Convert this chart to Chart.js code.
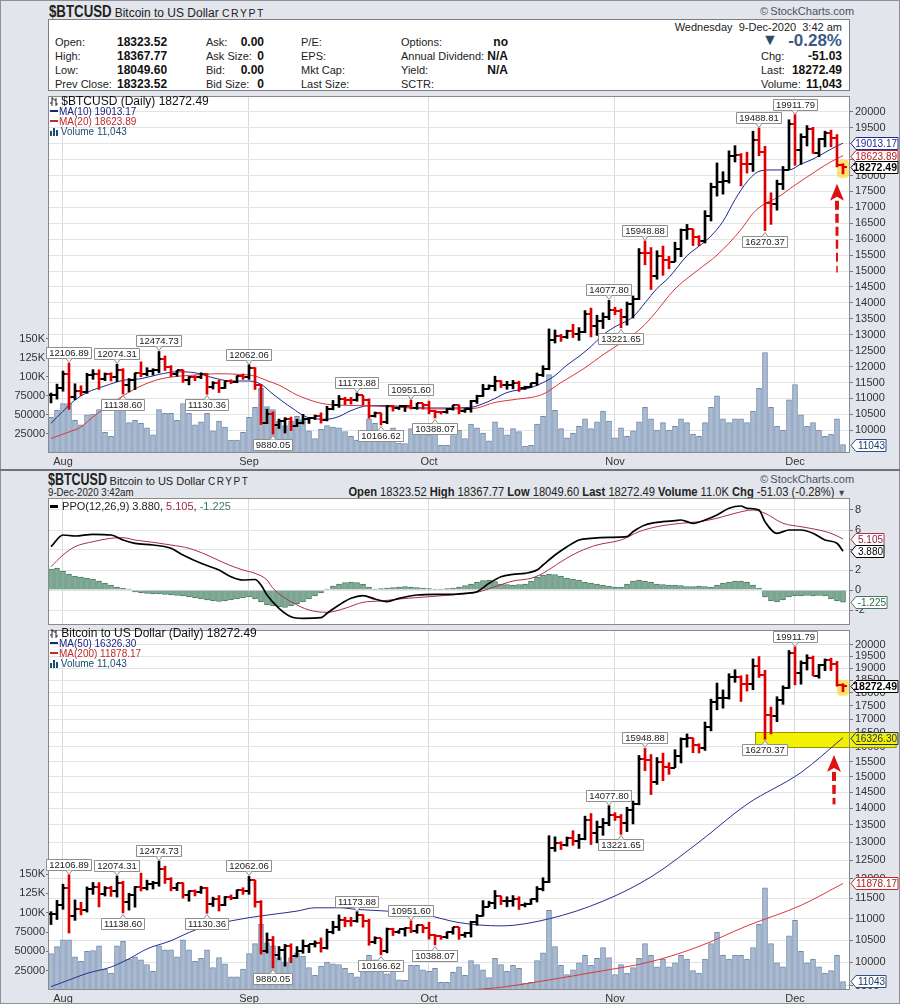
<!DOCTYPE html>
<html>
<head>
<meta charset="utf-8">
<title>$BTCUSD</title>
<script src="https://cdn.jsdelivr.net/npm/chart.js@4.4.1/dist/chart.umd.min.js"></script>
<style>
  html, body { margin: 0; padding: 0; }
  body { width: 900px; height: 1004px; position: relative; overflow: hidden; background: #e2e5eb;
         font-family: "Liberation Sans", Arial, sans-serif; color: #222; }
  .abs { position: absolute; white-space: nowrap; }
  .sym { display: inline-block; transform: scaleX(0.78); transform-origin: left center; margin-right: -18px; }
  .narrowR { transform: scaleX(0.93); transform-origin: right center; }
  #info { position: absolute; left: 48px; top: 19px; width: 800px; height: 70px; background: #fff;
          border: 1px solid #7d7d7d; font-size: 11px; }
  #info span, #info b { position: absolute; white-space: nowrap; line-height: 14px; }
  #info b { color: #111; font-size: 12px; }
  canvas { position: absolute; left: 0; }
  .leg { position: absolute; font-size: 10px; line-height: 11px; white-space: nowrap; z-index: 5; }
  .dash { display: inline-block; width: 8px; height: 2px; vertical-align: 3px; margin-right: 1px; }
  #frame { position: absolute; left: 0; top: 0; width: 898px; height: 1002px; border: 1px solid #8b9099; z-index: 9; pointer-events: none; }
  #sep { position: absolute; left: 0; top: 469px; width: 900px; height: 2px; background: #6d737d; z-index: 9; }
</style>
</head>
<body>
<div id="frame"></div>

<!-- top panel header -->
<div class="abs" style="left:49px;top:2px;font-size:12px;">
  <b class="sym" style="font-size:17px;">$BTCUSD</b> Bitcoin to US Dollar <span style="font-size:10.5px;letter-spacing:1.5px;">CRYPT</span>
</div>
<div class="abs" style="left:760px;top:5px;font-size:11px;color:#4a5363;">&copy;&thinsp;StockCharts.com</div>

<div id="info">
  <span style="left:6px;top:15px">Open:</span><b style="left:68px;top:15px">18323.52</b>
  <span style="left:6px;top:29px">High:</span><b style="left:68px;top:29px">18367.77</b>
  <span style="left:6px;top:43px">Low:</span><b style="left:68px;top:43px">18049.60</b>
  <span style="left:6px;top:57px">Prev Close:</span><b style="left:68px;top:57px">18323.52</b>

  <span style="left:157px;top:15px">Ask:</span><b style="right:585px;top:15px">0.00</b>
  <span style="left:157px;top:29px">Ask Size:</span><b style="right:585px;top:29px">0</b>
  <span style="left:157px;top:43px">Bid:</span><b style="right:585px;top:43px">0.00</b>
  <span style="left:157px;top:57px">Bid Size:</span><b style="right:585px;top:57px">0</b>

  <span style="left:252px;top:15px">P/E:</span>
  <span style="left:252px;top:29px">EPS:</span>
  <span style="left:252px;top:43px">Mkt Cap:</span>
  <span style="left:252px;top:57px">Last Size:</span>

  <span style="left:352px;top:15px">Options:</span><b style="right:341px;top:15px">no</b>
  <span style="left:352px;top:29px">Annual Dividend:</span><b style="right:341px;top:29px">N/A</b>
  <span style="left:352px;top:43px">Yield:</span><b style="right:341px;top:43px">N/A</b>
  <span style="left:352px;top:57px">SCTR:</span>

  <span style="right:7px;top:0px;font-size:11px;">Wednesday&nbsp; 9-Dec-2020&nbsp; 3:42 am</span>
  <span style="left:713px;top:12px;font-size:16px;line-height:16px;color:#2f4a6d;">&#9660;</span>
  <b style="right:7px;top:12px;font-size:17px;line-height:18px;color:#3b5a88;">-0.28%</b>
  <span style="left:712px;top:29px">Chg:</span><b style="right:7px;top:29px">-51.03</b>
  <span style="left:712px;top:43px">Last:</span><b style="right:7px;top:43px">18272.49</b>
  <span style="left:712px;top:57px">Volume:</span><b style="right:7px;top:57px">11,043</b>
</div>

<canvas id="c1" width="900" height="379" style="top:91px"></canvas>
<div class="leg" style="left:50px;top:95px;font-size:12px;line-height:12px;color:#111;">
  <svg width="8" height="9" style="vertical-align:-1px"><path d="M2 0v9M0 6h2M2 2h2M6 1v8M4 3h2M6 7h2" stroke="#222" stroke-width="1" fill="none"/></svg> $BTCUSD (Daily) 18272.49</div>
<div class="leg" style="left:50px;top:106px;color:#1a237e;"><i class="dash" style="background:#1a237e"></i>MA(10) 19013.17</div>
<div class="leg" style="left:50px;top:116px;color:#c62828;"><i class="dash" style="background:#c62828"></i>MA(20) 18623.89</div>
<div class="leg" style="left:50px;top:126px;color:#1b4f72;"><svg width="8" height="8" style="vertical-align:-1px"><rect x="0" y="3" width="2" height="5" fill="#1b4f72"/><rect x="3" y="0" width="2" height="8" fill="#1b4f72"/><rect x="6" y="2" width="2" height="6" fill="#1b4f72"/></svg> Volume 11,043</div>

<div id="sep"></div>

<!-- bottom panel header -->
<div class="abs" style="left:48px;top:471px;font-size:11px;">
  <b class="sym" style="font-size:16px;margin-right:-17px;">$BTCUSD</b> Bitcoin to US Dollar <span style="letter-spacing:1.5px;font-size:10px;">CRYPT</span>
</div>
<div class="abs" style="left:48px;top:486px;font-size:11px;transform:scaleX(0.88);transform-origin:left center;">9-Dec-2020 3:42am</div>
<div class="abs" style="left:760px;top:473px;font-size:11px;color:#4a5363;">&copy;&thinsp;StockCharts.com</div>
<div class="abs narrowR" style="right:54px;top:485px;font-size:12px;">
  <b>Open</b> 18323.52 <b>High</b> 18367.77 <b>Low</b> 18049.60 <b>Last</b> 18272.49 <b>Volume</b> 11.0K <b>Chg</b> -51.03 (-0.28%) <span style="font-size:9px;color:#445;">&#9660;</span>
</div>

<canvas id="c2" width="900" height="127" style="top:498px"></canvas>
<div class="leg" style="left:50px;top:500px;font-size:11px;line-height:12px;">
  <i class="dash" style="background:#000;height:3px;vertical-align:2px"></i> PPO(12,26,9) 3.880, <span style="color:#9c2a4a">5.105</span>, <span style="color:#3f7a62">-1.225</span></div>

<canvas id="c3" width="900" height="379" style="top:625px"></canvas>
<div class="leg" style="left:50px;top:627px;font-size:12px;line-height:12px;color:#111;">
  <svg width="8" height="9" style="vertical-align:-1px"><path d="M2 0v9M0 6h2M2 2h2M6 1v8M4 3h2M6 7h2" stroke="#222" stroke-width="1" fill="none"/></svg> Bitcoin to US Dollar (Daily) 18272.49</div>
<div class="leg" style="left:50px;top:638px;color:#1a237e;"><i class="dash" style="background:#1a237e"></i>MA(50) 16326.30</div>
<div class="leg" style="left:50px;top:648px;color:#c62828;"><i class="dash" style="background:#c62828"></i>MA(200) 11878.17</div>
<div class="leg" style="left:50px;top:658px;color:#1b4f72;"><svg width="8" height="8" style="vertical-align:-1px"><rect x="0" y="3" width="2" height="5" fill="#1b4f72"/><rect x="3" y="0" width="2" height="8" fill="#1b4f72"/><rect x="6" y="2" width="2" height="6" fill="#1b4f72"/></svg> Volume 11,043</div>

<script>
const FONT = '"Liberation Sans", Arial, sans-serif';
Chart.defaults.font.family = FONT;

// ---- data: one entry per day, 30-Jul-2020 .. 9-Dec-2020 ----
const monthStart = [2, 33, 63, 94, 124];
const monthLabels = ['Aug', 'Sep', 'Oct', 'Nov', 'Dec'];

const opens = [
  11110, 11111, 11323, 11759, 11053, 11246, 11205, 11747, 11779, 11601,
  11754, 11675, 11878, 11410, 11584, 11784, 11768, 11865, 11892, 12254,
  11991, 11758, 11878, 11592, 11681, 11664, 11774, 11366, 11488, 11323,
  11542, 11507, 11711, 11680, 11970, 11414, 10245, 10511, 10169, 10280,
  10369, 10131, 10242, 10364, 10400, 10442, 10324, 10680, 10796, 10974,
  10948, 10944, 11094, 10938, 10462, 10538, 10246, 10760, 10692, 10750,
  10776, 10709, 10845, 10784, 10620, 10585, 10565, 10680, 10797, 10604,
  10668, 10915, 11064, 11296, 11384, 11555, 11425, 11429, 11495, 11322,
  11358, 11483, 11742, 11916, 12823, 12965, 12931, 13108, 13031, 13075,
  13654, 13271, 13437, 13546, 13781, 13737, 13550, 13950, 14133, 15579,
  15565, 14833, 15479, 15332, 15290, 15701, 16276, 16317, 16068, 15955,
  16716, 17645, 17804, 17817, 18622, 18642, 18370, 18364, 19107, 18732,
  17150, 17108, 17717, 18178, 19625, 18802, 19201, 19445, 18699, 19154,
  19345, 19191, 18323.52
];
const highs = [
  11170, 11450, 11860, 12106.89, 11460, 11400, 11790, 11905, 11900, 11800,
  11806, 12074.31, 11935, 11628, 11800, 12150, 11965, 11934, 12474.73, 12335,
  12030, 11880, 11900, 11690, 11713, 11807, 11778, 11530, 11570, 11545,
  11585, 11715, 11768, 12062.06, 11970, 11442, 10663, 10581, 10353, 10399,
  10414, 10350, 10502, 10400, 10481, 10548, 10753, 10938, 11092, 11037,
  11034, 11173.88, 11094, 10988, 10575, 10538, 10778, 10774, 10731, 10783,
  10951.60, 10852, 10845, 10915, 10628, 10598, 10686, 10793, 10797, 10680,
  10939, 11103, 11442, 11428, 11698, 11557, 11539, 11569, 11540, 11386,
  11483, 11799, 12028, 13184, 13151, 13011, 13145, 13329, 13225, 13759,
  13837, 13612, 13689, 14077.80, 13862, 13808, 14028, 14218, 15706, 15948.88,
  15737, 15637, 15785, 15460, 15906, 16320, 16463, 16318, 16111, 16895,
  17760, 18393, 18119, 18773, 18936, 18688, 18731, 19390, 19488.81, 18915,
  17457, 17853, 18283, 19749, 19911.79, 19308, 19566, 19511, 19160, 19390,
  19421, 19283, 18367.77
];
const lows = [
  10860, 10980, 11228, 10660, 10960, 11090, 11160, 11600, 11285, 11558,
  11548, 11531, 11138.60, 11208, 11280, 11685, 11710, 11737, 11806, 11880,
  11687, 11696, 11505, 11427, 11559, 11623, 11130.36, 11296, 11185, 11316,
  11466, 11492, 11598, 11601, 11281, 10182, 10207, 9880.05, 10057, 9917,
  9991, 10118, 10200, 10216, 10340, 10226, 10294, 10642, 10721, 10807,
  10822, 10915, 10798, 10380, 10414, 10166.62, 10210, 10602, 10651, 10590,
  10669, 10658, 10668, 10519, 10388.07, 10513, 10534, 10634, 10516, 10562,
  10569, 10844, 11060, 11294, 11240, 11343, 11288, 11303, 11223, 11285,
  11347, 11408, 11688, 11900, 12740, 12792, 12885, 12910, 12822, 13064,
  12932, 12980, 13195, 13474, 13628, 13221.65, 13302, 13527, 14102, 15195,
  14423, 14744, 14865, 15072, 15291, 15452, 15993, 15800, 15793, 15880,
  16571, 17352, 17414, 17761, 18424, 17671, 18074, 18128, 18619, 16270.37,
  16464, 16910, 17559, 18178, 18321, 18347, 18925, 18697, 18590, 18897,
  18902, 18269, 18049.60
];
const closes = [
  11111, 11323, 11759, 11053, 11246, 11205, 11747, 11779, 11601, 11754,
  11675, 11878, 11410, 11584, 11784, 11768, 11865, 11892, 12254, 11991,
  11758, 11878, 11592, 11681, 11664, 11774, 11366, 11488, 11323, 11542,
  11507, 11711, 11680, 11970, 11414, 10245, 10511, 10169, 10280, 10369,
  10131, 10242, 10364, 10400, 10442, 10324, 10680, 10796, 10974, 10948,
  10944, 11094, 10938, 10462, 10538, 10246, 10760, 10692, 10750, 10776,
  10709, 10845, 10784, 10620, 10585, 10565, 10680, 10797, 10604, 10668,
  10915, 11064, 11296, 11384, 11555, 11425, 11429, 11495, 11322, 11358,
  11483, 11742, 11916, 12823, 12965, 12931, 13108, 13031, 13075, 13654,
  13271, 13437, 13546, 13781, 13737, 13550, 13950, 14133, 15579, 15565,
  14833, 15479, 15332, 15290, 15701, 16276, 16317, 16068, 15955, 16716,
  17645, 17804, 17817, 18622, 18642, 18370, 18364, 19107, 18732, 17150,
  17108, 17717, 18178, 19625, 18802, 19201, 19445, 18699, 19154, 19345,
  19191, 18323.52, 18272.49
];
// volume in thousands
const volumeK = [
  47, 56, 65, 65, 43, 37, 50, 51, 57, 27,
  22, 57, 63, 40, 43, 39, 33, 24, 57, 52,
  52, 43, 65, 52, 37, 41, 52, 29, 42, 34,
  17, 17, 27, 47, 60, 85, 61, 57, 42, 36,
  42, 48, 44, 29, 19, 31, 36, 34, 33, 28,
  22, 17, 24, 45, 39, 28, 21, 33, 13, 12.5,
  32, 32, 26, 24, 28, 10, 10, 23, 30, 19,
  38, 33, 26, 16, 41, 33, 24, 32, 28, 9,
  10, 38, 48, 103, 56, 32, 20, 26, 35, 45,
  32, 41, 55, 42, 20, 33, 22, 29, 41, 60,
  45, 30, 40, 30, 35, 45, 40, 25, 22, 40,
  60, 75, 45, 40, 45, 45, 40, 55, 85, 132,
  60, 35, 30, 70, 90, 50, 35, 40, 30, 22,
  25, 45, 11.043
];

// moving averages: [day, value]
const ma10 = [[0,10220],[2,10600],[4,10950],[6,11186],[9,11393],[12,11569],[15,11620],[18,11755],[21,11836],[24,11806],
  [27,11651],[30,11548],[33,11548],[35,11445],[37,11135],[40,10722],[43,10393],[46,10350],[48,10434],[50,10619],
  [53,10774],[56,10774],[60,10722],[63,10701],[66,10701],[70,10722],[72,10836],[74,11000],[76,11186],[80,11342],
  [82,11497],[84,11720],[86,12050],[88,12320],[90,12632],[92,12994],[94,13251],[97,13560],[99,14000],[101,14450],
  [103,14800],[106,15480],[108,15780],[110,16100],[112,16560],[114,17240],[116,17800],[118,18130],[120,18173],
  [123,18173],[125,18359],[127,18514],[129,18721],[131,18927],[132,19013.17]];
const ma20 = [[0,9743],[3,9950],[5,10103],[7,10420],[9,10700],[12,11084],[15,11393],[18,11600],[20,11672],[23,11724],
  [28,11775],[31,11760],[34,11703],[36,11560],[38,11420],[41,11110],[45,10850],[48,10790],[52,10774],[58,10722],
  [63,10671],[69,10671],[71,10700],[74,10877],[77,10960],[82,11135],[85,11500],[89,11960],[92,12373],[95,12740],
  [98,13150],[100,13530],[104,14437],[108,15056],[111,15500],[115,16300],[117,16811],[119,17121],[121,17300],
  [124,17700],[126,17950],[128,18200],[130,18430],[132,18623.89]];
const ma50 = [[0,9484],[3,9623],[6,9763],[10,9899],[13,10079],[16,10298],[20,10484],[23,10674],[26,10829],[30,10946],
  [33,11025],[37,11105],[41,11184],[44,11265],[48,11265],[51,11224],[56,11184],[62,11105],[68,10907],[75,10829],
  [83,10997],[92,11429],[100,12050],[108,13000],[116,14121],[125,15133],[132,16326.30]];
const ma200 = [[64,9380],[70,9420],[75,9471],[83,9624],[91,9798],[100,10015],[108,10353],[116,10829],[125,11325],[132,11878.17]];

// PPO(12,26,9)
const ppoLine = [[0,4.33],[2,5.5],[4,5.4],[7,5.57],[10,5.5],[12,5.0],[14,4.67],[17,4.5],[20,4.17],[22,3.5],[25,2.67],
  [28,2.0],[30,1.33],[32,1.0],[34,1.05],[35,0.5],[36,-0.5],[38,-1.83],[40,-2.67],[42,-2.83],[45,-2.77],[46,-2.33],
  [48,-1.5],[50,-0.83],[52,-0.57],[54,-0.9],[56,-1.17],[58,-0.83],[61,-0.5],[64,-0.43],[67,-0.43],[69,-0.33],
  [71,-0.17],[73,0.67],[75,1.33],[77,1.57],[79,1.67],[81,2.0],[82,2.5],[84,3.5],[86,4.33],[88,5.0],[90,5.17],
  [93,5.27],[96,5.33],[97,5.83],[99,6.5],[102,6.83],[104,6.93],[105,7.0],[107,6.67],[109,7.0],[111,7.5],[113,8.17],
  [115,8.4],[116,8.17],[118,8.0],[119,6.83],[121,5.67],[123,6.0],[125,6.0],[127,5.67],[129,5.0],[131,4.67],[132,3.88]];
const ppoSignal = [[0,2.33],[2,3.5],[4,4.33],[7,4.83],[10,5.17],[12,5.23],[14,5.0],[17,4.77],[20,4.5],[23,4.17],[26,3.5],
  [29,2.67],[32,2.0],[34,1.67],[36,1.0],[37,0.17],[40,-1.17],[43,-2.0],[46,-2.23],[49,-1.83],[52,-1.23],[55,-1.1],
  [58,-0.9],[63,-0.67],[68,-0.43],[71,-0.23],[74,0.33],[77,0.9],[80,1.17],[82,1.67],[85,2.83],[88,3.83],[91,4.5],
  [95,5.0],[98,5.83],[101,6.33],[105,6.67],[108,6.83],[111,7.17],[114,7.67],[117,8.0],[119,7.67],[122,6.67],
  [125,6.33],[128,6.0],[130,5.67],[132,5.105]];
const ppoHist = [
  2.1, 2.2, 1.9, 1.6, 1.4, 1.3, 1.2, 1.1, 0.9, 0.7,
  0.5, 0.3, 0.2, 0.1, -0.2, -0.3, -0.35, -0.4, -0.4, -0.45,
  -0.5, -0.55, -0.6, -0.7, -0.8, -0.9, -1.0, -1.1, -1.15, -1.1,
  -1.0, -0.9, -0.8, -0.7, -0.9, -1.2, -1.5, -1.6, -1.7, -1.75,
  -1.6, -1.4, -1.2, -0.9, -0.6, -0.3, 0.1, 0.4, 0.6, 0.75,
  0.8, 0.75, 0.6, 0.3, 0.1, 0.15, 0.2, 0.25, 0.3, 0.35,
  0.3, 0.25, 0.2, 0.15, 0.1, 0.1, 0.15, 0.2, 0.3, 0.45,
  0.6, 0.8, 0.95, 1.0, 0.85, 0.6, 0.55, 0.5, 0.55, 0.6,
  0.9, 1.3, 1.5, 1.6, 1.55, 1.4, 1.2, 1.1, 1.0, 0.8,
  0.7, 0.6, 0.5, 0.4, 0.3, 0.3, 0.6, 0.9, 1.0, 0.9,
  0.8, 0.6, 0.55, 0.5, 0.5, 0.45, 0.35, 0.35, 0.4, 0.35,
  0.3, 0.5, 0.7, 0.8, 0.9, 0.9, 0.8, 0.5, 0.2, -0.7,
  -1.1, -1.2, -1.0, -0.7, -0.6, -0.6, -0.55, -0.6, -0.55, -0.6,
  -0.9, -1.1, -1.225
];

const priceTicksTop = [10000, 10500, 11000, 11500, 12000, 12500, 13000, 13500, 14000, 14500, 15000, 15500,
  16000, 16500, 17000, 17500, 18000, 18500, 19000, 19500, 20000];
const priceTicksBottom = [9500].concat(priceTicksTop);
const volTicks = [25, 50, 75, 100, 125, 150];
const volTickLabels = ['25000', '50000', '75000', '100K', '125K', '150K'];
const ppoTicks = [-2, 0, 2, 4, 6, 8];

// labelled highs / lows: [day, value, 1 = above bar]
const notesTop = [[3,12106.89,1],[11,12074.31,1],[12,11138.60,0],[18,12474.73,1],[26,11130.36,0],[33,12062.06,1],
  [37,9880.05,0],[51,11173.88,1],[55,10166.62,0],[60,10951.60,1],[64,10388.07,0],[93,14077.80,1],[95,13221.65,0],
  [99,15948.88,1],[118,19488.81,1],[119,16270.37,0],[124,19911.79,1]];
const notesBottom = notesTop.filter(n => n[0] !== 118);

const days = closes.map((c, i) => i);
const UP = '#000000', DOWN = '#dd0000';
const barColors = closes.map((c, i) => ((i === 0 ? c >= opens[0] : c >= closes[i - 1]) ? UP : DOWN));

function tickImage(color, left) {
  const c = document.createElement('canvas');
  c.width = 8; c.height = 2;
  const g = c.getContext('2d');
  g.fillStyle = color;
  g.fillRect(left ? 0 : 4, 0, 4, 2);
  return c;
}
const tickImgs = {};
[UP, DOWN].forEach(col => { tickImgs[col] = { L: tickImage(col, true), R: tickImage(col, false) }; });

// ---- drawing helpers ----
function drawNote(ctx, x, y, text, above) {
  ctx.font = '9.5px ' + FONT;
  const w = Math.round(ctx.measureText(text).width) + 5, h = 11;
  const bx = Math.round(x - w / 2) + 0.5;
  const by = above ? Math.round(y - 5 - h) + 0.5 : Math.round(y + 5) + 0.5;
  ctx.fillStyle = '#ffffff'; ctx.strokeStyle = '#8f8f8f'; ctx.lineWidth = 1;
  ctx.beginPath(); ctx.rect(bx, by, w, h); ctx.fill(); ctx.stroke();
  ctx.beginPath();
  if (above) { ctx.moveTo(x - 3, by + h); ctx.lineTo(x, by + h + 4); ctx.lineTo(x + 3, by + h); }
  else { ctx.moveTo(x - 3, by); ctx.lineTo(x, by - 4); ctx.lineTo(x + 3, by); }
  ctx.fill(); ctx.stroke();
  ctx.fillStyle = '#222'; ctx.textAlign = 'center'; ctx.textBaseline = 'middle';
  ctx.fillText(text, bx + w / 2, by + h / 2 + 0.5);
}

function drawTag(ctx, x0, y, t) {
  ctx.font = (t.bold ? 'bold 10.5px ' : '10px ') + FONT;
  const tw = ctx.measureText(t.text).width;
  const w = Math.min(48, Math.round(tw) + 9);
  const h = 12;
  y = Math.round(y) + 0.5;
  ctx.beginPath();
  ctx.moveTo(x0 + 1, y);
  ctx.lineTo(x0 + 6, y - h / 2); ctx.lineTo(x0 + w, y - h / 2);
  ctx.lineTo(x0 + w, y + h / 2); ctx.lineTo(x0 + 6, y + h / 2);
  ctx.closePath();
  ctx.fillStyle = t.bg || '#fff'; ctx.fill();
  ctx.strokeStyle = t.border; ctx.lineWidth = 1; ctx.stroke();
  ctx.fillStyle = t.color; ctx.textAlign = 'right'; ctx.textBaseline = 'middle';
  ctx.fillText(t.text, x0 + w - 1, y + 0.5);
}

function drawArrow(ctx, x, yTip, yTail) {
  ctx.save();
  ctx.fillStyle = '#e01010'; ctx.strokeStyle = '#e01010';
  ctx.beginPath();
  ctx.moveTo(x, yTip); ctx.lineTo(x - 7, yTip + 17); ctx.lineTo(x, yTip + 13); ctx.lineTo(x + 7, yTip + 17);
  ctx.closePath(); ctx.fill();
  let y = yTip + 17, w = 4;
  while (y < yTail) {
    const y2 = Math.min(y + 9, yTail);
    ctx.lineWidth = w;
    ctx.beginPath(); ctx.moveTo(x, y); ctx.lineTo(x, y2); ctx.stroke();
    y = y2 + 4; w = Math.max(1.2, w - 0.5);
  }
  ctx.restore();
}

const deco = {
  id: 'deco',
  beforeDraw(chart) {
    const { ctx, chartArea: a, width, height } = chart;
    ctx.save();
    ctx.fillStyle = '#e2e5eb'; ctx.fillRect(0, 0, width, height);
    ctx.fillStyle = '#ffffff'; ctx.fillRect(a.left, a.top, a.right - a.left, a.bottom - a.top);
    ctx.restore();
  },
  beforeDatasetsDraw(chart, args, o) {
    const { ctx, chartArea: a, scales } = chart;
    ctx.save();
    (o.zones || []).forEach(z => {
      const x0 = scales.x.getPixelForValue(z.from);
      const y0 = Math.round(scales.price.getPixelForValue(z.hi)), y1 = Math.round(scales.price.getPixelForValue(z.lo));
      ctx.fillStyle = '#f2f200'; ctx.fillRect(x0, y0, chart.width - x0 - 4, y1 - y0);
      ctx.strokeStyle = '#9a9200'; ctx.lineWidth = 1;
      ctx.strokeRect(Math.round(x0) + 0.5, y0 + 0.5, chart.width - x0 - 4, y1 - y0);
    });
    if (o.glow) {
      const n = closes.length - 1;
      const x = scales.x.getPixelForValue(n);
      const yt = scales.price.getPixelForValue(highs[n]), yb = scales.price.getPixelForValue(lows[n]);
      ctx.fillStyle = 'rgba(255, 212, 40, 0.65)';
      ctx.beginPath(); ctx.roundRect(x - 6, yt - 4, 12, yb - yt + 8, 4); ctx.fill();
    }
    ctx.restore();
  },
  afterDatasetsDraw(chart, args, o) {
    const { ctx, chartArea: a, scales } = chart;
    ctx.save();
    ctx.strokeStyle = '#8a8a8a'; ctx.lineWidth = 1;
    ctx.strokeRect(a.left + 0.5, a.top + 0.5, a.right - a.left - 1, a.bottom - a.top - 1);
    (o.notes || []).forEach(n => {
      const x = scales.x.getPixelForValue(n[0]);
      const y = scales.price.getPixelForValue(n[1]);
      drawNote(ctx, x, y, n[1].toFixed(2), n[2] === 1);
    });
    (o.arrows || []).forEach(r => {
      drawArrow(ctx, Math.round(scales.x.getPixelForValue(r.at)),
        scales.price.getPixelForValue(r.tip), scales.price.getPixelForValue(r.tail));
    });
    ctx.restore();
  },
  afterDraw(chart, args, o) {
    const { ctx, chartArea: a, scales } = chart;
    ctx.save();
    (o.tags || []).forEach(t => drawTag(ctx, a.right, scales[t.axis].getPixelForValue(t.v), t));
    ctx.restore();
  }
};

function xScale(showLabels, h) {
  return {
    type: 'linear', min: -0.5, max: 133.1667, offset: false,
    afterBuildTicks: s => { s.ticks = monthStart.map(v => ({ value: v })); },
    ticks: { display: showLabels, autoSkip: false, maxRotation: 0, padding: 2, color: '#333',
      font: { size: 11 }, callback: v => monthLabels[monthStart.indexOf(v)] },
    grid: { color: '#d6d9de', drawTicks: false, offset: false },
    border: { display: false },
    afterFit: s => { s.height = h; s.paddingLeft = 0; s.paddingRight = 0; }
  };
}
function rightScale(extra, ticks, fmt) {
  return Object.assign({
    position: 'right',
    afterBuildTicks: s => { s.ticks = ticks.map(v => ({ value: v })); },
    ticks: { autoSkip: false, color: '#333', font: { size: 11 }, padding: 2, callback: fmt },
    grid: { color: '#e3e4e6', tickLength: 3, tickColor: '#777' },
    border: { display: false },
    afterFit: s => { s.width = 50; s.paddingTop = 0; s.paddingBottom = 0; }
  }, extra);
}
function volScale(max) {
  return {
    type: 'linear', position: 'left', min: 0, max: max,
    afterBuildTicks: s => { s.ticks = volTicks.map(v => ({ value: v })); },
    ticks: { autoSkip: false, color: '#333', font: { size: 11 }, padding: 1,
      callback: v => volTickLabels[volTicks.indexOf(v)] },
    grid: { drawOnChartArea: false, tickLength: 2, tickColor: '#777' },
    border: { display: false },
    afterFit: s => { s.width = 48; s.paddingTop = 0; s.paddingBottom = 0; }
  };
}

function priceChart(id, cfg) {
  const datasets = [
    { type: 'bar', data: days.map(i => ({ x: i, y: volumeK[i] })), yAxisID: 'vol', grouped: false,
      barThickness: 5, backgroundColor: '#a9bbd2', borderColor: '#7189aa', borderWidth: 1, order: 6 },
    ...cfg.mas.map(m => ({ type: 'line', data: m.data.map(p => ({ x: p[0], y: p[1] })), yAxisID: 'price',
      borderColor: m.color, borderWidth: 1, pointRadius: 0, tension: 0.35, cubicInterpolationMode: 'monotone', order: 4 })),
    { type: 'bar', data: days.map(i => ({ x: i, y: [lows[i], highs[i]] })), yAxisID: 'price', grouped: false,
      barThickness: 2, backgroundColor: barColors, order: 2 },
    { type: 'scatter', data: days.map(i => ({ x: i, y: opens[i] })), yAxisID: 'price', pointRadius: 3,
      pointStyle: c => tickImgs[barColors[c.dataIndex] || UP].L, order: 1 },
    { type: 'scatter', data: days.map(i => ({ x: i, y: closes[i] })), yAxisID: 'price', pointRadius: 3,
      pointStyle: c => tickImgs[barColors[c.dataIndex] || UP].R, order: 1 }
  ];
  return new Chart(document.getElementById(id), {
    type: 'bar',
    data: { datasets },
    options: {
      responsive: false, animation: false, events: [],
      layout: { padding: 0 },
      plugins: { legend: { display: false }, tooltip: { enabled: false }, deco: cfg.deco },
      scales: { x: xScale(true, cfg.xh), price: cfg.price, vol: volScale(cfg.volMax) }
    },
    plugins: [deco]
  });
}

priceChart('c1', {
  xh: 17, volMax: 468.9,
  price: rightScale({ type: 'linear', min: 9288, max: 20495 }, priceTicksTop, v => String(v)),
  mas: [{ data: ma20, color: '#e0353a' }, { data: ma10, color: '#1f2a8f' }],
  deco: {
    notes: notesTop, glow: true,
    arrows: [{ at: 131, tip: 17740, tail: 14954 }],
    tags: [
      { axis: 'vol', v: 11.043, text: '11043', color: '#1b3a6b', border: '#2b4f86' },
      { axis: 'price', v: 19013.17, text: '19013.17', color: '#1f2a8f', border: '#1f2a8f' },
      { axis: 'price', v: 18623.89, text: '18623.89', color: '#b01c1c', border: '#c62828' },
      { axis: 'price', v: 18272.49, text: '18272.49', color: '#000', border: '#000', bold: true }
    ]
  }
});

new Chart(document.getElementById('c2'), {
  type: 'bar',
  data: { datasets: [
    { type: 'line', data: ppoLine.map(p => ({ x: p[0], y: p[1] })), yAxisID: 'ppo', borderColor: '#000',
      borderWidth: 1.7, pointRadius: 0, tension: 0.3, cubicInterpolationMode: 'monotone', order: 1 },
    { type: 'line', data: ppoSignal.map(p => ({ x: p[0], y: p[1] })), yAxisID: 'ppo', borderColor: '#a8324e',
      borderWidth: 1, pointRadius: 0, tension: 0.3, cubicInterpolationMode: 'monotone', order: 2 },
    { type: 'bar', data: ppoHist.map((h, i) => ({ x: i, y: h })), yAxisID: 'ppo', grouped: false,
      barThickness: 5, backgroundColor: '#80ad98', borderColor: '#46785f', borderWidth: 1, order: 3 }
  ] },
  options: {
    responsive: false, animation: false, events: [],
    layout: { padding: { left: 48 } },
    plugins: { legend: { display: false }, tooltip: { enabled: false },
      deco: { tags: [
        { axis: 'ppo', v: 5.105, text: '5.105', color: '#8c1f3f', border: '#a8324e' },
        { axis: 'ppo', v: 3.88, text: '3.880', color: '#000', border: '#000' },
        { axis: 'ppo', v: -1.225, text: '-1.225', color: '#2f6a52', border: '#46785f' }
      ] } },
    scales: {
      x: xScale(false, 0),
      ppo: rightScale({ type: 'linear', min: -3.5, max: 9.2 }, ppoTicks, v => String(v))
    }
  },
  plugins: [deco]
});

priceChart('c3', {
  xh: 14, volMax: 465.6,
  price: rightScale({ type: 'logarithmic', min: 9415, max: 20652 }, priceTicksBottom, v => String(v)),
  mas: [{ data: ma200, color: '#e0353a' }, { data: ma50, color: '#27308f' }],
  deco: {
    notes: notesBottom, glow: true,
    zones: [{ from: 117.4, hi: 16536, lo: 16012 }],
    arrows: [{ at: 130.5, tip: 15724, tail: 14116 }],
    tags: [
      { axis: 'vol', v: 11.043, text: '11043', color: '#1b3a6b', border: '#2b4f86' },
      { axis: 'price', v: 11878.17, text: '11878.17', color: '#b01c1c', border: '#c62828' },
      { axis: 'price', v: 16326.30, text: '16326.30', color: '#1f2a6f', border: '#1f2a8f', bg: '#f2f200' },
      { axis: 'price', v: 18272.49, text: '18272.49', color: '#000', border: '#000', bold: true }
    ]
  }
});
</script>
</body>
</html>
